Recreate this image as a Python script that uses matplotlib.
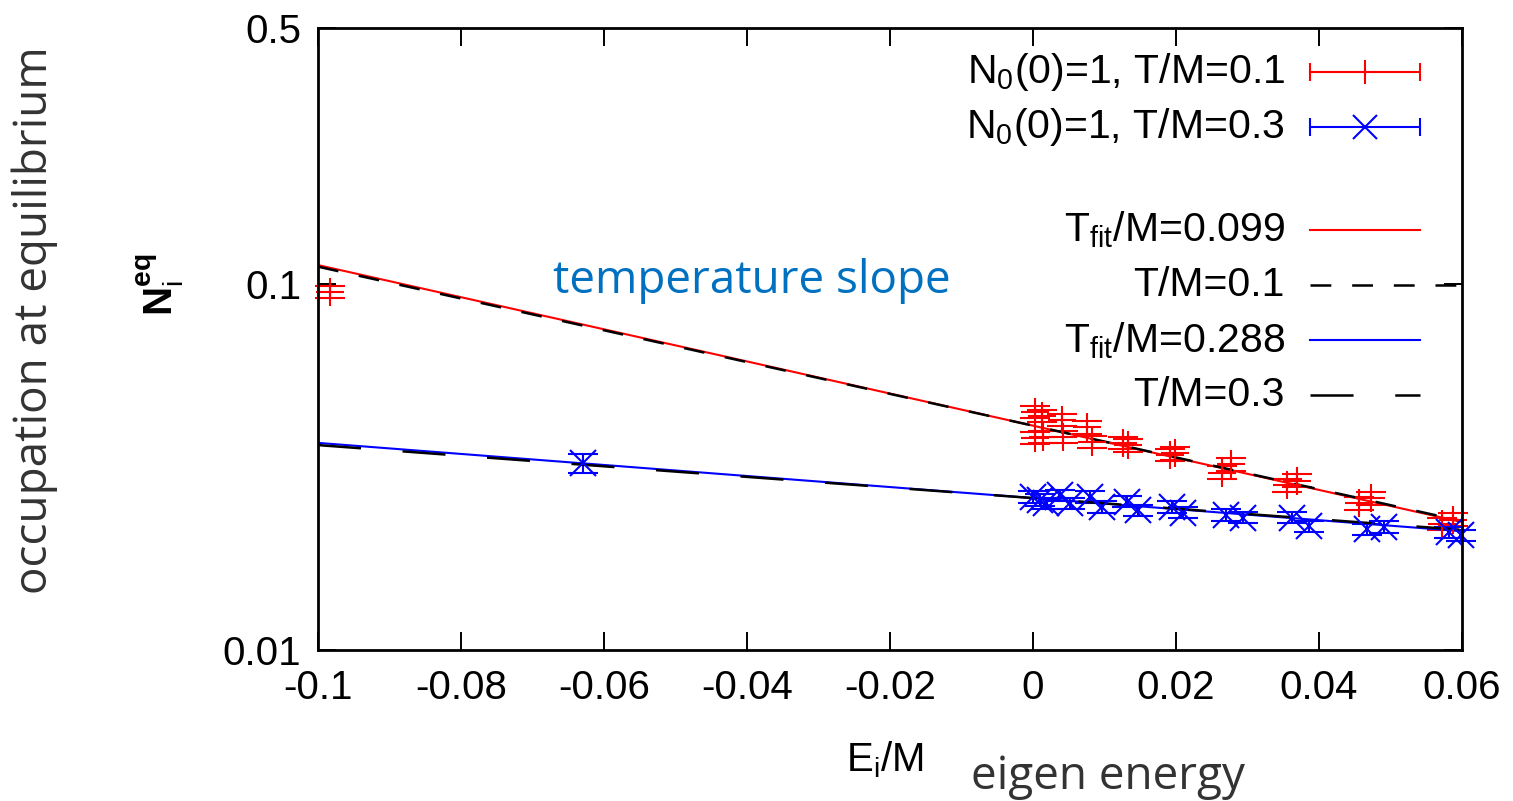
import numpy as np
import matplotlib
matplotlib.use("Agg")
import matplotlib.pyplot as plt

plt.rcParams['font.family'] = ['Liberation Sans', 'DejaVu Sans']
plt.rcParams['mathtext.fontset'] = 'custom'
plt.rcParams['mathtext.rm'] = 'Liberation Sans'
plt.rcParams['mathtext.it'] = 'Liberation Sans'
plt.rcParams['mathtext.bf'] = 'Liberation Sans:bold'
plt.rcParams['lines.scale_dashes'] = False

# data (E_i/M, N_i^eq)
red_e = [-0.0983, 0.0003, 0.0013, 0.0003, 0.0014, 0.0041, 0.0042, 0.0076, 0.0083,
         0.0126, 0.0133, 0.0192, 0.0199, 0.0264, 0.0277, 0.0355, 0.0369,
         0.0456, 0.0473, 0.0572, 0.0587]
red_n = [0.0951, 0.0447, 0.0436, 0.0380, 0.0382, 0.0425, 0.0382, 0.0406, 0.0370,
         0.0368, 0.0363, 0.0341, 0.0345, 0.0305, 0.0322, 0.0282, 0.0290,
         0.0252, 0.0260, 0.0221, 0.0227]
red_err = 0.04

blue_e = [-0.0629, 0.0000, 0.0010, 0.0018, 0.0038, 0.0052, 0.0080, 0.0097,
          0.0131, 0.0147, 0.0194, 0.0210, 0.0270, 0.0294, 0.0362, 0.0386,
          0.0467, 0.0491, 0.0582, 0.0598]
blue_n = [0.0324, 0.0262, 0.0257, 0.0252, 0.0265, 0.0252, 0.0262, 0.0246,
          0.0254, 0.0241, 0.0246, 0.0237, 0.0234, 0.0230, 0.0230, 0.0218,
          0.0214, 0.0217, 0.0210, 0.0206]
blue_err = [0.06] + [0.035] * 19

# exponential fits N = A exp(-E/T)
fit_red = (0.0410, 0.099)
exact_red = (0.0410, 0.1)
fit_blue = (0.0260, 0.288)
exact_blue = (0.0260, 0.3)

fig = plt.figure(figsize=(15.13, 8.01), dpi=100)
ax = fig.add_axes([0.2102, 0.1885, 0.7561, 0.7765])

ax.errorbar(red_e, red_n, yerr=np.array(red_n) * red_err, fmt='+', color='#ff0000',
            ms=20, mew=1.5, elinewidth=1.5, capsize=11, capthick=1.5, clip_on=False)
ax.errorbar(blue_e, blue_n, yerr=np.array(blue_n) * np.array(blue_err), fmt='x',
            color='#0000ff', ms=19, mew=1.5, elinewidth=1.5, capsize=11, capthick=1.5,
            clip_on=False)

e = np.linspace(-0.1, 0.06, 300)
ax.plot(e, fit_red[0] * np.exp(-e / fit_red[1]), color='#ff0000', lw=1.5)
ax.plot(e, exact_red[0] * np.exp(-e / exact_red[1]), color='black', lw=1.8,
        dashes=(15, 15))
ax.plot(e, fit_blue[0] * np.exp(-e / fit_blue[1]), color='#0000ff', lw=1.5)
ax.plot(e, exact_blue[0] * np.exp(-e / exact_blue[1]), color='black', lw=1.8,
        dashes=(31, 30))

ax.set_yscale('log')
ax.set_xlim(-0.1, 0.06)
ax.set_ylim(0.01, 0.5)
ax.set_xticks([-0.1, -0.08, -0.06, -0.04, -0.02, 0, 0.02, 0.04, 0.06])
ax.set_xticklabels(['-0.1', '-0.08', '-0.06', '-0.04', '-0.02', '0', '0.02', '0.04', '0.06'])
ax.set_yticks([0.01, 0.1, 0.5])
ax.set_yticklabels(['0.01', '0.1', '0.5'])
ax.minorticks_off()
ax.tick_params(direction='in', length=13, width=1.4, labelsize=29,
               top=True, right=True)
ax.tick_params(axis='x', pad=14)
ax.tick_params(axis='y', pad=12)
for s in ax.spines.values():
    s.set_linewidth(2)

# legend drawn gnuplot-style: text right-justified, sample on the right
tx, x0, x1 = 0.845, 0.867, 0.963
xm = (x0 + x1) / 2
rows = [0.929, 0.841, 0.675, 0.587, 0.498, 0.410]
labels = [r'N$_0$(0)=1, T/M=0.1', r'N$_0$(0)=1, T/M=0.3',
          r'T$_{\mathrm{fit}}$/M=0.099', 'T/M=0.1',
          r'T$_{\mathrm{fit}}$/M=0.288', 'T/M=0.3']
for lab, yy in zip(labels, rows):
    ax.text(tx, yy, lab, transform=ax.transAxes, ha='right', va='center', fontsize=29.5)

tr = ax.transAxes
for yy, c, m in [(rows[0], '#ff0000', '+'), (rows[1], '#0000ff', 'x')]:
    ax.plot([x0, x1], [yy, yy], color=c, lw=1.5, transform=tr, clip_on=False)
    ax.plot([x0, x1], [yy, yy], ls='none', marker='|', ms=13, mew=1.5, color=c,
            transform=tr, clip_on=False)
    ax.plot([xm], [yy], ls='none', marker=m, ms=17, mew=1.5, color=c,
            transform=tr, clip_on=False)
ax.plot([x0, x1], [rows[2]] * 2, color='#ff0000', lw=1.5, transform=tr, clip_on=False)
ax.plot([x0, x1 + 0.038], [rows[3]] * 2, color='black', lw=1.8, dashes=(15, 15),
        transform=tr, clip_on=False)
ax.plot([x0, x1], [rows[4]] * 2, color='#0000ff', lw=1.5, transform=tr, clip_on=False)
ax.plot([x0, x1], [rows[5]] * 2, color='black', lw=1.8, dashes=(31, 30),
        transform=tr, clip_on=False)

ax.text(0.205, 0.594, 'temperature slope', transform=tr, color='#0070c0',
        fontsize=33, family='Open Sans', va='center', ha='left')

fig.text(0.106, 0.644, r'N$_\mathrm{i}^{\mathbf{eq}}$', rotation=90, fontsize=29,
         fontweight='bold', ha='center', va='center')
fig.text(0.585, 0.051, r'E$_\mathrm{i}$/M', fontsize=29, ha='center', va='center')
fig.text(0.023, 0.60, 'occupation at equilibrium', rotation=90, fontsize=33,
         family='Open Sans', color='#333333', ha='center', va='center')
fig.text(0.642, 0.030, 'eigen energy', fontsize=33, family='Open Sans',
         color='#333333', ha='left', va='center')

fig.savefig('out.png', dpi=100)
